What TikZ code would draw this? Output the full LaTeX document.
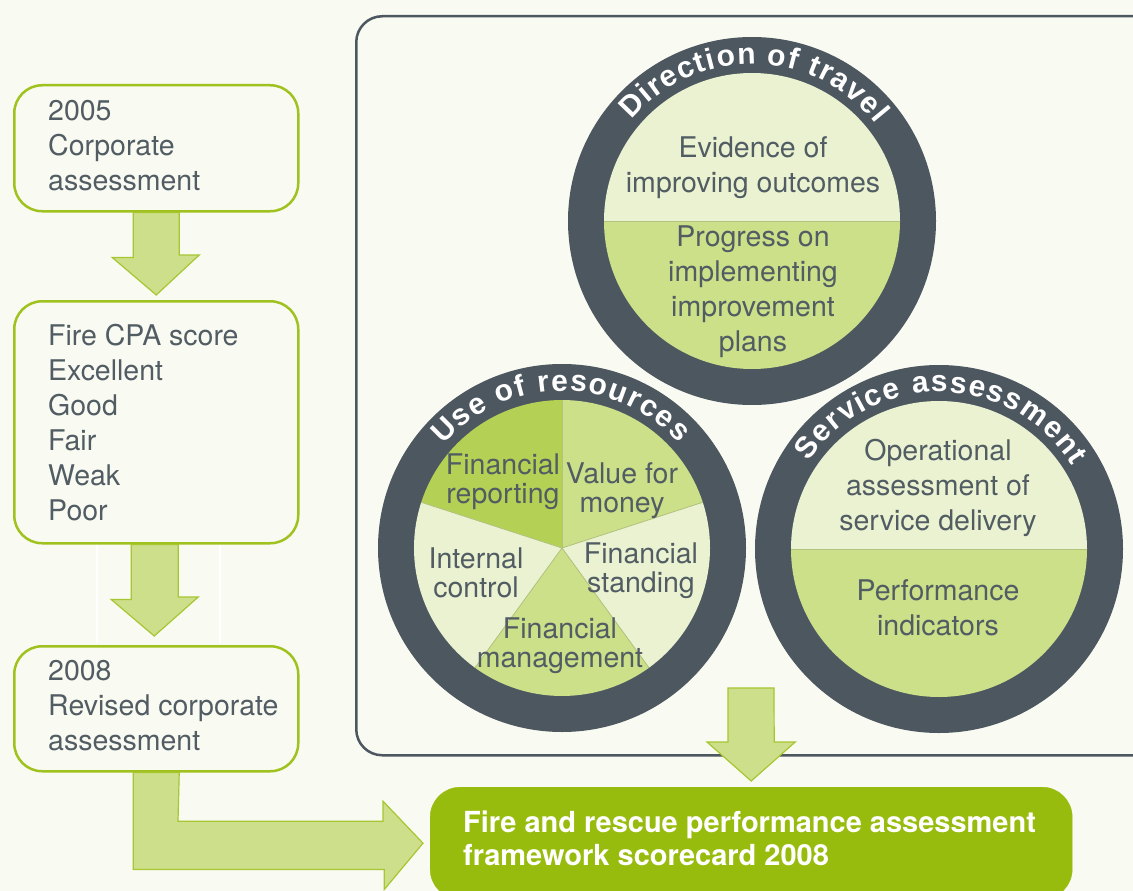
\documentclass[tikz,border=0pt]{standalone}
\usepackage{fontspec}
\setmainfont{TeX Gyre Heros}
\newfontfamily\ringfont{Liberation Sans}
\usetikzlibrary{decorations.text}
\definecolor{bg}{HTML}{F9FAF2}
\definecolor{txtgray}{HTML}{515C63}
\definecolor{boxgreen}{HTML}{A0C21E}
\definecolor{arrowfill}{HTML}{CDDF8A}
\definecolor{arrowline}{HTML}{A6C632}
\definecolor{ringdark}{HTML}{4D5760}
\definecolor{lightfill}{HTML}{EAF2D1}
\definecolor{midfill}{HTML}{CCDF89}
\definecolor{darkfill}{HTML}{B5D155}
\definecolor{sepgray}{HTML}{B3C27C}
\definecolor{scgreen}{HTML}{98BC0E}
\tikzset{
  stage/.style={draw=boxgreen, line width=2.5pt, rounded corners=28pt, fill=bg, inner sep=0pt, anchor=north west},
  frame/.style={draw=ringdark, line width=2.5pt, rounded corners=26pt, fill=bg, inner sep=0pt, anchor=north west},
  stagetext/.style={font=\fontsize{28.5}{35}\selectfont, text=txtgray, align=left, inner sep=0pt, anchor=base west},
  ctext/.style={font=\fontsize{28.5}{35}\selectfont, text=txtgray, align=center, inner sep=0pt, anchor=base},
  ptext/.style={font=\fontsize{28.5}{29}\selectfont, text=txtgray, align=center, inner sep=0pt, anchor=base},
  sctext/.style={font=\fontsize{29}{33}\selectfont\bfseries, text=white, align=left, inner sep=0pt, anchor=base west},
  blockarrow/.style={fill=arrowfill, draw=arrowline, line width=1.2pt, line join=miter},
  ring/.style={circle, fill=ringdark, minimum size=368pt, inner sep=0pt},
  sepline/.style={draw=sepgray, line width=0.8pt},
  ringlabel/.style={decorate, decoration={text along path, text={|\ringfont\bfseries\fontsize{30}{30}\selectfont|#1}, text color=white, text align={fit to path}}},
}
\begin{document}
\begin{tikzpicture}[x=1pt,y=1pt]
\useasboundingbox (0,0) rectangle (1133,-891);
\fill[bg] (0,0) rectangle (1133,-891);

% faint white guide lines
\draw[white, line width=1.5pt] (97,-545) -- (97,-643);
\draw[white, line width=1.5pt] (220,-545) -- (220,-643);

% big frame
\node[frame, minimum width=815pt, minimum height=739pt] (frame) at (355,-15) {};

% circles
\node[ring] (dt) at (752,-221) {};
\node[ring] (ur) at (562,-548) {};
\node[ring] (sa) at (939,-549) {};

% direction of travel halves
\fill[lightfill] ([xshift=-148pt]dt.center) arc[start angle=180, end angle=0, radius=148] -- cycle;
\fill[midfill] ([xshift=148pt]dt.center) arc[start angle=0, end angle=-180, radius=148] -- cycle;
\draw[sepline] ([xshift=-148pt]dt.center) -- ([xshift=148pt]dt.center);

% service assessment halves
\fill[lightfill] ([xshift=-148pt]sa.center) arc[start angle=180, end angle=0, radius=148] -- cycle;
\fill[midfill] ([xshift=148pt]sa.center) arc[start angle=0, end angle=-180, radius=148] -- cycle;
\draw[sepline] ([xshift=-148pt]sa.center) -- ([xshift=148pt]sa.center);

% use of resources pie
\fill[darkfill] (ur.center) -- ++(90:148) arc[start angle=90, end angle=162, radius=148] -- cycle;
\fill[midfill] (ur.center) -- ++(18:148) arc[start angle=18, end angle=90, radius=148] -- cycle;
\fill[lightfill] (ur.center) -- ++(-54:148) arc[start angle=-54, end angle=18, radius=148] -- cycle;
\fill[midfill] (ur.center) -- ++(-126:148) arc[start angle=-126, end angle=-54, radius=148] -- cycle;
\fill[lightfill] (ur.center) -- ++(162:148) arc[start angle=162, end angle=234, radius=148] -- cycle;
\foreach \a in {90,18,-54,-126,162} \draw[sepline] (ur.center) -- ++(\a:148);

% ring labels
\path[ringlabel={Direction of travel}] ([shift={(140:157)}]dt.center) arc[start angle=140, end angle=38, radius=157];
\path[ringlabel={Use of resources}] ([shift={(139:157)}]ur.center) arc[start angle=139, end angle=42, radius=157];
\path[ringlabel={Service assessment}] ([shift={(146:157)}]sa.center) arc[start angle=146, end angle=32, radius=157];

% circle texts (anchored at last baseline)
\node[ctext] (dt1) at (753,-192) {Evidence of\\improving outcomes};
\node[ctext] (dt2) at (753,-351) {Progress on\\implementing\\improvement\\plans};
\node[ctext] (sa1) at (938,-530) {Operational\\assessment of\\service delivery};
\node[ctext] (sa2) at (938,-635) {Performance\\indicators};
\node[ptext] (ur1) at (503,-503) {Financial\\reporting};
\node[ptext] (ur2) at (622,-512) {Value for\\money};
\node[ptext] (ur3) at (641,-592) {Financial\\standing};
\node[ptext] (ur4) at (476,-597) {Internal\\control};
\node[ptext] (ur5) at (560,-667) {Financial\\management};

% stage boxes
\node[stage, minimum width=284pt, minimum height=126pt] (b1) at (13,-84) {};
\node[stage, minimum width=284pt, minimum height=242pt] (b2) at (13,-300) {};
\node[stage, minimum width=284pt, minimum height=125pt] (b3) at (13,-645) {};
\node[stagetext] (t1) at (48,-190) {2005\\Corporate\\assessment};
\node[stagetext] (t2) at (48,-520) {Fire CPA score\\Excellent\\Good\\Fair\\Weak\\Poor};
\node[stagetext] (t3) at (48,-750) {2008\\Revised corporate\\assessment};

% scorecard box
\node[draw=scgreen, fill=scgreen, rounded corners=30pt, minimum width=642pt, minimum height=112pt, inner sep=0pt, anchor=north west] (sc) at (430,-787) {};
\node[sctext] (sct) at (463,-865) {Fire and rescue performance assessment\\framework scorecard 2008};

% block arrows
\draw[blockarrow] ([xshift=-23pt]b1.south) -- ++(0,-45) -- ++(-21,0) -- ([yshift=5pt]b2.north) -- ++(43,40) -- ++(-20,0) -- ([xshift=23pt]b1.south) -- cycle;
\draw[blockarrow] ([xshift=-25pt]b2.south) -- ++(0,-55) -- ++(-20,0) -- ([xshift=-2pt,yshift=9pt]b3.north) -- ++(44,39) -- ++(-20,0) -- ([xshift=22pt]b2.south) -- cycle;
\draw[blockarrow] ([xshift=-23pt]b3.south) -- ++(0,-97) -- ++(251,0) -- ++(0,-20) -- ([xshift=-7pt]sc.west) -- ++(-40,42) -- ++(0,-20) -- ++(-205,0) -- ([xshift=23pt]b3.south) -- cycle;
\coordinate (a4) at (751,-688);
\draw[blockarrow] ([xshift=-23pt]a4) -- ++(0,-54) -- ++(-21,0) -- ([yshift=6pt]sc.north) -- ++(44,39) -- ++(-21,0) -- ([xshift=23pt]a4) -- cycle;
\end{tikzpicture}
\end{document}
